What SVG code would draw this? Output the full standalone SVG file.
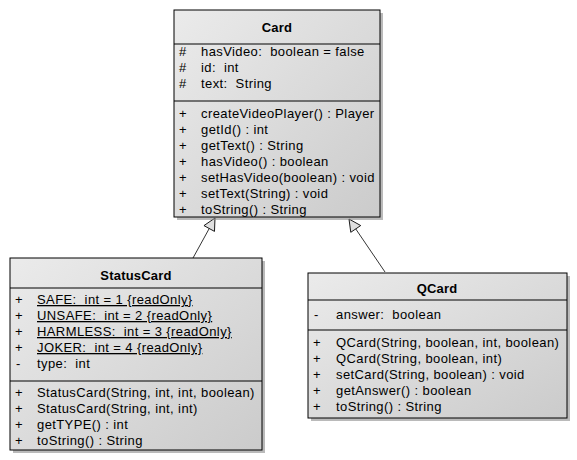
<svg xmlns="http://www.w3.org/2000/svg" width="577" height="460" viewBox="0 0 577 460">
<defs>
<linearGradient id="g" x1="0" y1="0" x2="1" y2="1">
<stop offset="0" stop-color="#ebebeb"/>
<stop offset="1" stop-color="#cbcbcb"/>
</linearGradient>
<marker id="tri" markerWidth="14" markerHeight="14" refX="13" refY="7" orient="auto" markerUnits="userSpaceOnUse">
<path d="M1,1 L13,7 L1,13 Z" fill="#e0e0e0" stroke="#000" stroke-width="0.8"/>
</marker>
</defs>
<style>
.box{fill:url(#g);stroke:#000;stroke-width:1}
.sh{fill:#8c8c8c;opacity:0.6}
.sep{stroke:#000;stroke-width:1}
text{font-family:"Liberation Sans",Arial,sans-serif;font-size:13px;letter-spacing:0.4px;fill:#000;white-space:pre}
.t{font-weight:bold;text-anchor:middle;letter-spacing:0.2px}
.u{text-decoration:underline}
.c{stroke:#000;stroke-width:0.8;fill:none}
</style>
<rect width="577" height="460" fill="#fff"/>
<g id="connectors">
<line class="c" x1="193" y1="258" x2="215" y2="218" marker-end="url(#tri)"/>
<line class="c" x1="385" y1="272" x2="349" y2="219" marker-end="url(#tri)"/>
</g>
<g id="Card">
<rect class="sh" x="177" y="13" width="206" height="207"/>
<rect class="box" x="174" y="10" width="206" height="207"/>
<line class="sep" x1="174" y1="44" x2="380" y2="44"/>
<line class="sep" x1="174" y1="101" x2="380" y2="101"/>
<text class="t" x="277" y="32">Card</text>
<text x="179" y="56">#</text><text x="201" y="56">hasVideo:  boolean = false</text>
<text x="179" y="72">#</text><text x="201" y="72">id:  int</text>
<text x="179" y="88">#</text><text x="201" y="88">text:  String</text>
<text x="179" y="118">+</text><text x="201" y="118">createVideoPlayer() : Player</text>
<text x="179" y="134">+</text><text x="201" y="134">getId() : int</text>
<text x="179" y="150">+</text><text x="201" y="150">getText() : String</text>
<text x="179" y="166">+</text><text x="201" y="166">hasVideo() : boolean</text>
<text x="179" y="182">+</text><text x="201" y="182">setHasVideo(boolean) : void</text>
<text x="179" y="198">+</text><text x="201" y="198">setText(String) : void</text>
<text x="179" y="214">+</text><text x="201" y="214">toString() : String</text>
</g>
<g id="StatusCard">
<rect class="sh" x="13" y="261" width="252" height="192"/>
<rect class="box" x="10" y="258" width="252" height="192"/>
<line class="sep" x1="10" y1="288" x2="262" y2="288"/>
<line class="sep" x1="10" y1="381" x2="262" y2="381"/>
<text class="t" x="136" y="280">StatusCard</text>
<text x="15" y="304">+</text><text class="u" x="37" y="304">SAFE:  int = 1 {readOnly}</text>
<text x="15" y="320">+</text><text class="u" x="37" y="320">UNSAFE:  int = 2 {readOnly}</text>
<text x="15" y="336">+</text><text class="u" x="37" y="336">HARMLESS:  int = 3 {readOnly}</text>
<text x="15" y="352">+</text><text class="u" x="37" y="352">JOKER:  int = 4 {readOnly}</text>
<text x="16" y="368">-</text><text x="37" y="368">type:  int</text>
<text x="15" y="397">+</text><text x="37" y="397">StatusCard(String, int, int, boolean)</text>
<text x="15" y="413">+</text><text x="37" y="413">StatusCard(String, int, int)</text>
<text x="15" y="429">+</text><text x="37" y="429">getTYPE() : int</text>
<text x="15" y="445">+</text><text x="37" y="445">toString() : String</text>
</g>
<g id="QCard">
<rect class="sh" x="311" y="276" width="259" height="145"/>
<rect class="box" x="308" y="273" width="259" height="145"/>
<line class="sep" x1="308" y1="300" x2="567" y2="300"/>
<line class="sep" x1="308" y1="330" x2="567" y2="330"/>
<text class="t" x="437" y="293">QCard</text>
<text x="314" y="319">-</text><text x="336" y="319">answer:  boolean</text>
<text x="313" y="347">+</text><text x="336" y="347">QCard(String, boolean, int, boolean)</text>
<text x="313" y="363">+</text><text x="336" y="363">QCard(String, boolean, int)</text>
<text x="313" y="379">+</text><text x="336" y="379">setCard(String, boolean) : void</text>
<text x="313" y="395">+</text><text x="336" y="395">getAnswer() : boolean</text>
<text x="313" y="411">+</text><text x="336" y="411">toString() : String</text>
</g>
</svg>
